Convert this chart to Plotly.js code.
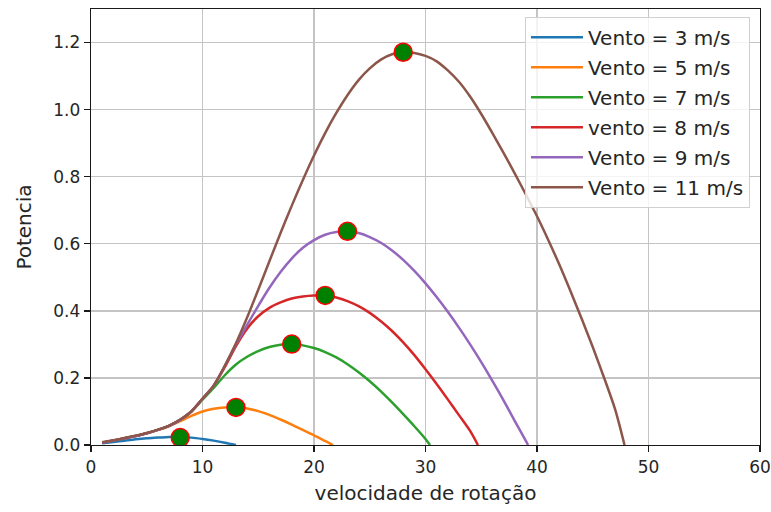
<!DOCTYPE html>
<html>
<head>
<meta charset="utf-8">
<script src="https://cdn.plot.ly/plotly-3.0.1.min.js"></script>
<style>html,body{margin:0;padding:0;background:#fff;}#chart{width:771px;height:512px;}</style>
</head>
<body>
<div id="chart"></div>
<script>
// Series labels and colours
const seriesNames = ["Vento = 3 m/s", "Vento = 5 m/s", "Vento = 7 m/s", "vento = 8 m/s", "Vento = 9 m/s", "Vento = 11 m/s"];
const seriesColors = ["#1f77b4", "#ff7f0e", "#2ca02c", "#d62728", "#9467bd", "#8c564b"];

// Curves (rotation speed, power)
const x3 = [1, 2, 3, 4, 5, 6, 7, 8, 9, 10, 11, 12, 13];
const y3 = [0.005, 0.009, 0.013, 0.017, 0.020, 0.022, 0.024, 0.024, 0.022, 0.018, 0.013, 0.007, 0.0];

const x5 = [1, 2, 3, 4, 5, 6, 7, 8, 9, 10, 11, 12, 13, 14, 15, 16, 17, 18, 19, 20, 21, 21.7];
const y5 = [0.007, 0.013, 0.020, 0.027, 0.035, 0.045, 0.056, 0.071, 0.087, 0.100, 0.108, 0.112, 0.113, 0.109, 0.101, 0.090, 0.076, 0.061, 0.045, 0.029, 0.012, 0.0];

const x7 = [1, 2, 3, 4, 5, 6, 7, 8, 9, 10, 11, 12, 13, 14, 15, 16, 17, 18, 19, 20, 21, 22, 23, 24, 25, 26, 27, 28, 29, 30, 30.4];
const y7 = [0.007, 0.013, 0.020, 0.027, 0.035, 0.045, 0.057, 0.075, 0.100, 0.135, 0.170, 0.208, 0.240, 0.263, 0.280, 0.292, 0.299, 0.301, 0.297, 0.289, 0.277, 0.261, 0.241, 0.217, 0.190, 0.160, 0.127, 0.092, 0.056, 0.018, 0.0];

const x8 = [1, 2, 3, 4, 5, 6, 7, 8, 9, 10, 11, 12, 13, 14, 15, 16, 17, 18, 19, 20, 21, 22, 23, 24, 25, 26, 27, 28, 29, 30, 31, 32, 33, 34, 34.7];
const y8 = [0.007, 0.013, 0.020, 0.027, 0.035, 0.045, 0.057, 0.075, 0.100, 0.138, 0.177, 0.232, 0.295, 0.347, 0.384, 0.409, 0.425, 0.437, 0.443, 0.446, 0.446, 0.440, 0.429, 0.414, 0.394, 0.369, 0.340, 0.306, 0.268, 0.226, 0.182, 0.136, 0.089, 0.042, 0.0];

const x9 = [1, 2, 3, 4, 5, 6, 7, 8, 9, 10, 11, 12, 13, 14, 15, 16, 17, 18, 19, 20, 21, 22, 23, 24, 25, 26, 27, 28, 29, 30, 31, 32, 33, 34, 35, 36, 37, 38, 39, 39.2];
const y9 = [0.007, 0.013, 0.020, 0.027, 0.035, 0.045, 0.057, 0.075, 0.100, 0.138, 0.177, 0.236, 0.300, 0.358, 0.415, 0.469, 0.516, 0.556, 0.588, 0.611, 0.627, 0.635, 0.637, 0.632, 0.620, 0.603, 0.580, 0.552, 0.519, 0.482, 0.441, 0.397, 0.350, 0.300, 0.247, 0.191, 0.133, 0.072, 0.012, 0.0];

const x11 = [1, 2, 3, 4, 5, 6, 7, 8, 9, 10, 11, 12, 13, 14, 15, 16, 17, 18, 19, 20, 21, 22, 23, 24, 25, 26, 27, 28, 29, 30, 31, 32, 33, 34, 35, 36, 37, 38, 39, 40, 41, 42, 43, 44, 45, 46, 47, 47.85];
const y11 = [0.008, 0.014, 0.021, 0.028, 0.036, 0.046, 0.058, 0.076, 0.100, 0.138, 0.177, 0.236, 0.303, 0.380, 0.463, 0.548, 0.632, 0.713, 0.790, 0.863, 0.930, 0.990, 1.043, 1.088, 1.123, 1.149, 1.165, 1.171, 1.169, 1.160, 1.144, 1.117, 1.083, 1.039, 0.987, 0.930, 0.871, 0.810, 0.747, 0.682, 0.612, 0.538, 0.459, 0.377, 0.292, 0.202, 0.107, 0.0];

// Peak markers
const peakX = [8, 13, 18, 21, 23, 28];
const peakY = [0.022, 0.112, 0.301, 0.446, 0.637, 1.171];

// Axis ticks
const xTicks = [0, 10, 20, 30, 40, 50, 60];
const yTicks = [0.0, 0.2, 0.4, 0.6, 0.8, 1.0, 1.2];

const xs = [x3, x5, x7, x8, x9, x11];
const ys = [y3, y5, y7, y8, y9, y11];

const FONT = "DejaVu Sans, sans-serif";
const TXT = "#262626";
const traces = xs.map((xv, i) => ({
  type: "scatter", mode: "lines", x: xv, y: ys[i], name: seriesNames[i],
  legendgroup: "g" + i,
  line: {color: seriesColors[i], width: 2.5, shape: "spline", smoothing: 0.8}
}));
traces.push({
  type: "scatter", mode: "markers", x: peakX, y: peakY, showlegend: false,
  marker: {color: "green", size: 18, line: {color: "red", width: 1.5}}
});

const layout = {
  width: 771, height: 512,
  margin: {l: 91, r: 11, t: 9, b: 67},
  paper_bgcolor: "#fff", plot_bgcolor: "#fff",
  font: {family: FONT, size: 17, color: TXT},
  showlegend: true,
  legend: {
    x: 0.985, xanchor: "right", y: 0.982, yanchor: "top",
    bgcolor: "rgba(255,255,255,0.8)", bordercolor: "#d0d0d0", borderwidth: 1,
    font: {family: FONT, size: 20, color: TXT}, tracegroupgap: 1, itemwidth: 52
  },
  xaxis: {
    range: [0, 60], tickvals: xTicks, ticktext: xTicks.map(String),
    showgrid: true, gridcolor: "#c4c4c4", gridwidth: 1.3,
    showline: true, linecolor: "#1a1a1a", linewidth: 1.3, mirror: true,
    ticks: "outside", ticklen: 6, tickwidth: 1.3, tickcolor: "#1a1a1a",
    zeroline: false, tickfont: {family: FONT, size: 17, color: TXT},
    title: {text: "velocidade de rotação", font: {family: FONT, size: 20, color: TXT}, standoff: 10}
  },
  yaxis: {
    range: [0, 1.3], tickvals: yTicks, ticktext: yTicks.map(v => v.toFixed(1)),
    showgrid: true, gridcolor: "#c4c4c4", gridwidth: 1.3,
    showline: true, linecolor: "#1a1a1a", linewidth: 1.3, mirror: true,
    ticks: "outside", ticklen: 6, tickwidth: 1.3, tickcolor: "#1a1a1a",
    zeroline: false, tickfont: {family: FONT, size: 17, color: TXT},
    title: {text: "Potencia", font: {family: FONT, size: 20, color: TXT}, standoff: 16}
  }
};

Plotly.newPlot("chart", traces, layout, {displayModeBar: false, staticPlot: true});
</script>
</body>
</html>
